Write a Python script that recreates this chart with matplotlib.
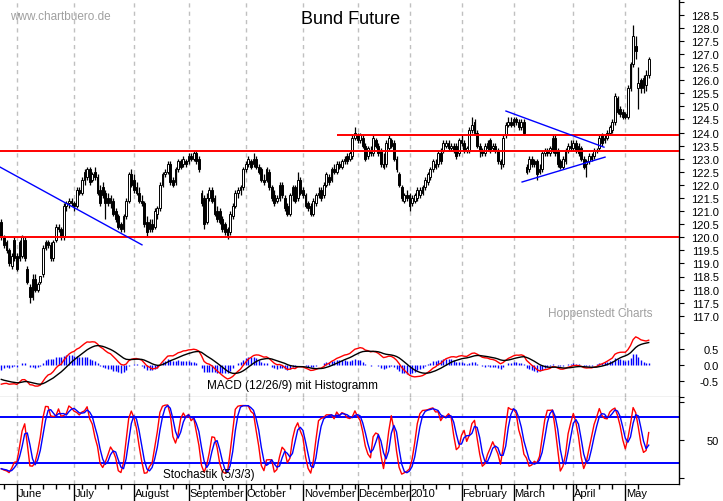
import numpy as np
import pandas as pd
import matplotlib
matplotlib.use("Agg")
import matplotlib.pyplot as plt
from matplotlib.transforms import blended_transform_factory

plt.rcParams['font.family'] = ['Liberation Sans', 'DejaVu Sans']

# Tageskerzen Bund Future (Mai 2009 - Mai 2010), eine Zeile je Monat
opens = [
    120.6, 120.0, 119.8, 119.5, 118.9, 119.9,
    119.3, 119.2, 119.3, 119.9, 118.8, 118.1, 117.7, 118.4, 118.0, 118.3, 118.6, 119.6, 119.8, 119.7, 119.2, 119.9, 120.4, 120.3, 120.0, 121.2, 121.3, 121.4,
    121.3, 121.2, 121.8, 121.7, 122.2, 122.3, 122.6, 122.2, 122.5, 122.3, 121.8, 121.9, 121.7, 121.5, 121.3, 121.4, 121.0, 120.8, 120.5, 120.3, 120.8, 121.4, 122.4,
    122.2, 121.9, 121.7, 121.4, 121.3, 120.6, 120.3, 120.5, 120.4, 120.9, 121.1, 122.0, 122.4, 122.5, 122.8, 122.2, 122.1, 122.6, 122.9, 122.8, 122.9,
    122.9, 123.1, 123.0, 123.2, 123.0, 121.7, 121.5, 120.6, 121.5, 121.8, 121.5, 121.0, 121.0, 120.7, 120.5, 120.3, 120.2, 120.8, 121.2, 121.7, 121.8, 121.9,
    122.6, 122.8, 122.9, 122.8, 123.0, 122.7, 122.6, 122.2, 122.2, 122.5, 121.9, 121.6, 121.4, 121.5, 122.0, 121.5, 121.2, 120.9, 121.6, 121.9, 121.5, 122.2,
    121.8, 121.6, 121.3, 121.2, 120.9, 121.3, 121.6, 121.8, 121.6, 122.0, 122.3, 122.2, 122.6, 122.5, 122.8, 122.7, 122.9, 123.1, 123.0, 123.1, 123.8,
    123.9, 123.7, 123.8, 123.5, 123.1, 123.3, 123.2, 123.7, 123.5, 123.3, 122.8, 122.8, 123.4, 123.7, 123.6, 123.0, 122.4, 121.9, 121.4, 121.6,
    121.6, 121.3, 121.4, 121.5, 121.6, 121.7, 121.9, 122.1, 122.3, 122.6, 122.8, 122.8, 123.2, 123.3, 123.5, 123.6, 123.4, 123.5, 123.5, 123.2,
    123.7, 123.6, 123.3, 123.3, 124.1, 124.4, 124.0, 123.5, 123.3, 123.2, 123.4, 123.7, 123.4, 123.5, 123.3, 122.9, 122.8, 123.9, 124.3, 124.4,
    124.3, 124.5, 124.4, 124.2, 124.4, 122.7, 122.6, 123.0, 122.9, 122.9, 122.5, 122.6, 123.2, 123.3, 123.2, 123.3, 123.8, 123.3, 122.9, 122.7, 122.9, 123.3, 123.5,
    123.4, 123.6, 123.5, 123.4, 123.0, 122.8, 122.9, 123.1, 123.1, 123.3, 123.4, 123.9, 123.7, 123.8, 124.0, 124.1, 124.4, 125.3, 124.9, 124.8,
    124.7, 124.6, 125.7, 126.6, 127.3, 125.7, 126.0, 125.7, 125.8, 126.2,
]
highs = [
    120.7, 120.1, 119.9, 119.6, 119.4, 120.0,
    119.4, 119.9, 120.1, 120.0, 118.9, 118.2, 118.6, 118.6, 118.3, 118.5, 119.7, 119.9, 119.9, 119.8, 119.9, 120.5, 120.5, 120.4, 121.3, 121.4, 121.5, 121.5,
    121.4, 121.9, 121.9, 122.3, 122.6, 122.7, 122.7, 122.5, 122.7, 122.4, 122.0, 122.1, 121.8, 121.7, 121.6, 121.5, 121.1, 120.9, 120.6, 120.9, 121.5, 122.5, 122.6,
    122.4, 122.1, 121.9, 121.6, 121.4, 120.8, 120.7, 120.7, 121.1, 121.2, 122.1, 122.5, 122.6, 122.9, 122.9, 122.3, 122.7, 123.0, 123.0, 123.1, 123.0,
    123.2, 123.2, 123.3, 123.3, 123.1, 121.8, 121.6, 121.7, 121.9, 121.9, 121.6, 121.2, 121.1, 120.8, 120.6, 120.4, 121.0, 121.3, 121.8, 121.9, 122.0, 122.7,
    122.9, 123.1, 123.0, 123.2, 123.1, 122.8, 122.7, 122.4, 122.7, 122.6, 122.0, 121.8, 121.6, 122.1, 122.1, 121.6, 121.3, 121.7, 122.0, 122.0, 122.5, 122.3,
    121.9, 121.7, 121.4, 121.3, 121.5, 121.7, 121.9, 121.9, 122.1, 122.5, 122.4, 122.7, 122.8, 122.9, 122.9, 123.0, 123.1, 123.2, 123.3, 123.9, 124.2,
    124.0, 124.0, 123.9, 123.6, 123.5, 123.5, 123.9, 123.8, 123.6, 123.4, 123.2, 123.7, 123.9, 123.8, 123.7, 123.1, 122.5, 122.0, 121.7, 121.8,
    121.7, 121.6, 121.7, 121.9, 121.9, 122.0, 122.3, 122.5, 122.7, 123.0, 123.0, 123.3, 123.4, 123.7, 123.7, 123.7, 123.6, 123.6, 123.6, 123.8,
    123.9, 123.7, 123.5, 124.2, 124.6, 124.5, 124.1, 123.6, 123.4, 123.6, 123.7, 123.8, 123.6, 123.6, 123.4, 123.0, 123.9, 124.4, 124.6, 124.6,
    124.6, 124.6, 124.5, 124.5, 124.5, 122.8, 123.1, 123.1, 123.0, 123.0, 122.8, 123.3, 123.4, 123.4, 123.5, 123.9, 123.9, 123.4, 123.0, 123.1, 123.4, 123.6, 123.7,
    123.7, 123.7, 123.6, 123.5, 123.1, 123.0, 123.2, 123.2, 123.4, 123.4, 123.9, 124.0, 123.9, 124.1, 124.3, 124.5, 125.5, 125.4, 125.0, 124.9,
    124.8, 125.8, 126.7, 128.1, 127.7, 126.5, 126.1, 126.2, 126.4, 126.9,
]
lows = [
    119.9, 119.6, 119.4, 118.9, 118.8, 119.1,
    118.7, 119.1, 119.2, 119.1, 118.2, 117.5, 117.6, 117.9, 117.9, 118.2, 118.5, 119.5, 119.6, 119.1, 119.1, 119.8, 120.2, 119.9, 119.9, 121.0, 121.1, 121.2,
    121.0, 121.1, 121.6, 121.6, 122.0, 122.2, 122.0, 122.1, 122.2, 121.6, 121.2, 121.5, 120.7, 121.2, 121.1, 120.8, 120.6, 120.3, 120.2, 120.2, 120.7, 121.3, 121.9,
    121.7, 121.6, 121.3, 121.2, 120.4, 120.0, 120.2, 120.2, 120.3, 120.7, 121.0, 121.9, 122.3, 122.4, 122.0, 121.9, 122.0, 122.5, 122.6, 122.7, 122.7,
    122.8, 122.9, 122.9, 122.8, 122.5, 121.2, 120.3, 120.5, 121.4, 121.3, 120.8, 120.6, 120.5, 120.2, 120.1, 119.95, 120.1, 120.7, 121.1, 121.5, 121.6, 121.8,
    122.5, 122.7, 122.6, 122.7, 122.6, 122.4, 122.1, 122.0, 122.1, 121.8, 121.4, 121.2, 121.3, 121.4, 121.5, 121.0, 120.8, 120.8, 121.4, 121.3, 121.4, 121.6,
    121.5, 121.1, 121.0, 120.8, 120.8, 121.2, 121.5, 121.4, 121.5, 121.9, 122.0, 122.1, 122.4, 122.4, 122.6, 122.6, 122.8, 122.8, 122.9, 123.0, 123.7,
    123.6, 123.6, 123.4, 122.9, 123.0, 123.1, 123.1, 123.4, 123.1, 122.7, 122.6, 122.7, 123.3, 123.4, 122.9, 122.5, 121.9, 121.4, 121.3, 121.4,
    121.0, 121.2, 121.3, 121.4, 121.5, 121.6, 121.8, 122.0, 122.2, 122.5, 122.6, 122.7, 122.8, 123.2, 123.4, 123.3, 123.3, 123.2, 123.0, 123.1,
    123.5, 123.2, 123.2, 123.2, 124.0, 123.9, 123.4, 123.05, 123.1, 123.1, 123.3, 123.2, 123.3, 123.2, 122.8, 122.6, 122.7, 123.8, 124.2, 124.2,
    124.2, 124.3, 124.1, 124.1, 123.9, 122.4, 122.5, 122.7, 122.7, 122.2, 122.4, 122.5, 123.1, 123.1, 123.1, 123.2, 123.1, 122.7, 122.6, 122.6, 122.8, 123.2, 123.3,
    123.3, 123.2, 123.1, 122.9, 122.6, 122.3, 122.8, 122.9, 123.0, 123.2, 123.3, 123.5, 123.6, 123.7, 123.9, 124.0, 124.3, 124.7, 124.6, 124.5,
    124.5, 124.5, 125.6, 126.5, 126.8, 124.9, 125.5, 125.5, 125.6, 126.1,
]
closes = [
    120.0, 119.7, 119.5, 119.0, 119.3, 119.2,
    118.8, 119.8, 120.0, 119.2, 118.3, 117.7, 118.4, 118.0, 118.2, 118.5, 119.6, 119.8, 119.7, 119.2, 119.8, 120.4, 120.3, 120.0, 121.2, 121.3, 121.4, 121.3,
    121.2, 121.8, 121.7, 122.2, 122.5, 122.6, 122.1, 122.4, 122.3, 121.7, 121.3, 121.6, 121.3, 121.3, 121.5, 120.9, 120.7, 120.4, 120.3, 120.8, 121.4, 122.4, 122.0,
    121.8, 121.7, 121.4, 121.3, 120.5, 120.2, 120.6, 120.3, 121.0, 121.1, 122.0, 122.4, 122.5, 122.8, 122.1, 122.0, 122.6, 122.9, 122.7, 123.0, 122.8,
    123.1, 123.0, 123.2, 122.9, 122.6, 121.3, 120.5, 121.5, 121.8, 121.4, 120.9, 120.7, 120.6, 120.3, 120.2, 120.1, 120.9, 121.2, 121.7, 121.8, 121.9, 122.6,
    122.8, 123.0, 122.7, 123.0, 122.7, 122.5, 122.2, 122.1, 122.6, 121.9, 121.5, 121.3, 121.5, 122.0, 121.6, 121.1, 120.9, 121.6, 121.9, 121.4, 122.2, 121.7,
    121.6, 121.2, 121.1, 120.9, 121.4, 121.6, 121.7, 121.5, 122.0, 122.4, 122.1, 122.6, 122.5, 122.8, 122.7, 122.9, 123.0, 122.9, 123.2, 123.8, 124.0,
    123.7, 123.9, 123.5, 123.0, 123.4, 123.2, 123.8, 123.5, 123.2, 122.8, 122.7, 123.6, 123.8, 123.5, 123.0, 122.6, 122.0, 121.5, 121.6, 121.5,
    121.2, 121.5, 121.6, 121.8, 121.8, 121.9, 122.2, 122.4, 122.6, 122.9, 122.7, 123.2, 122.9, 123.6, 123.6, 123.4, 123.5, 123.3, 123.1, 123.7,
    123.6, 123.3, 123.4, 124.1, 124.3, 124.0, 123.5, 123.3, 123.2, 123.5, 123.6, 123.3, 123.5, 123.3, 122.9, 122.8, 123.8, 124.3, 124.4, 124.3,
    124.5, 124.4, 124.2, 124.4, 124.0, 122.5, 123.0, 122.8, 122.8, 122.4, 122.6, 123.2, 123.3, 123.2, 123.4, 123.8, 123.2, 122.8, 122.7, 123.0, 123.3, 123.5, 123.4,
    123.6, 123.3, 123.2, 123.0, 122.7, 122.9, 123.1, 123.0, 123.3, 123.3, 123.8, 123.6, 123.8, 124.0, 124.2, 124.4, 125.4, 124.8, 124.7, 124.6,
    124.6, 125.7, 126.6, 127.7, 127.1, 125.9, 125.7, 126.1, 126.2, 126.8,
]

# Eurex-Feiertage ohne Handel
holidays = ['2009-12-24', '2009-12-25', '2009-12-31', '2010-01-01', '2010-04-02', '2010-04-05']

macd_start = -0.6
signal_start = -0.45

# Unterstuetzung/Widerstand und Trendlinien (Index, Kurs)
support_lines = [120.0, 123.28]
resistance = 123.89
resistance_from = 129
trend_down = ([-0.5, 54.1], [122.68, 119.71])
tri_upper = ([194.1, 231.8], [124.82, 123.44])
tri_lower = ([200.3, 232.2], [122.11, 123.06])

dates = pd.bdate_range('2009-05-22', '2010-05-14')
dates = dates[~dates.isin(pd.to_datetime(holidays))]

o = np.array(opens)
h = np.array(highs)
l = np.array(lows)
c = np.array(closes)
x = np.arange(len(c))


def ema(values, span, start):
    k = 2.0 / (span + 1)
    out = np.empty(len(values))
    out[0] = start
    for i in range(1, len(values)):
        out[i] = out[i - 1] + k * (values[i] - out[i - 1])
    return out


ema12 = ema(c, 12, c[0])
ema26 = ema(c, 26, c[0] - macd_start)
macd = ema12 - ema26
signal = ema(macd, 9, signal_start)
hist = macd - signal

ll = pd.Series(l).rolling(5, min_periods=1).min().values
hh = pd.Series(h).rolling(5, min_periods=1).max().values
raw_k = 100 * (c - ll) / (hh - ll)
slow_k = pd.Series(raw_k).rolling(3, min_periods=1).mean().values
slow_d = pd.Series(slow_k).rolling(3, min_periods=1).mean().values

# Monatsanfaenge
month_idx = [i for i in range(1, len(dates)) if dates[i].month != dates[i - 1].month]
month_names = ['2010' if dates[i].month == 1 else dates[i].strftime('%B') for i in month_idx]
week_idx = [i for i in range(1, len(dates)) if dates[i].weekday() < dates[i - 1].weekday()]

W, H = 723, 502
fig = plt.figure(figsize=(W / 100, H / 100), dpi=100)


def panel(top, bottom):
    return fig.add_axes([0, 1 - bottom / H, 679 / W, (bottom - top) / H])


ax1 = panel(0, 333)
ax2 = panel(333, 398)
ax3 = panel(398, 485)

xmin, xmax = -0.5, 260.65
for ax in (ax1, ax2, ax3):
    ax.set_xlim(xmin, xmax)
    for s in ('left', 'top', 'bottom'):
        ax.spines[s].set_visible(False)
    ax.spines['right'].set_linewidth(1)
    for m in month_idx:
        ax.axvline(m, color='#c0c0c0', lw=1, ls=(0, (3, 3)), zorder=0)
    ax.yaxis.tick_right()
    ax.tick_params(axis='y', direction='out', length=3.6, width=0.8, labelsize=8,
                   pad=25.2, right=True, left=False, labelright=True, labelleft=False)
    ax.tick_params(axis='x', bottom=False, labelbottom=False)
ax2.spines['bottom'].set_visible(True)
ax3.spines['bottom'].set_visible(True)

# Kurs-Chart
up = c >= o
ax1.vlines(x, l, h, color='black', lw=0.9, zorder=2)
ax1.bar(x, np.maximum(np.abs(c - o), 0.03), bottom=np.minimum(o, c), width=0.75,
        color=np.where(up, 'white', 'black'), edgecolor='black', lw=0.7, zorder=3)
for lev in support_lines:
    ax1.axhline(lev, color='red', lw=1.4, zorder=4)
ax1.hlines(resistance, resistance_from, xmax, color='red', lw=1.4, zorder=4)
for xs, ys in (trend_down, tri_upper, tri_lower):
    ax1.plot(xs, ys, color='blue', lw=1, zorder=4)
ax1.set_ylim(116.38, 129.1)
pticks = np.arange(117.0, 129.01, 0.5)
ax1.set_yticks(pticks, ['%.1f' % t if t < 128.9 else '' for t in pticks])

# MACD
ax2.vlines(x, 0, hist, color='blue', lw=1, zorder=2)
ax2.plot(x, macd, color='red', lw=1, zorder=3)
ax2.plot(x, signal, color='black', lw=1, zorder=3)
ax2.set_ylim(-1.0, 1.03)
ax2.set_yticks([-1.0, -0.5, 0.0, 0.5, 1.0], ['', '-0.5', '0.0', '0.5', ''])

# Stochastik
ax3.axhline(80, color='blue', lw=1.4)
ax3.axhline(20, color='blue', lw=1.4)
ax3.plot(x, slow_k, color='red', lw=1)
ax3.plot(x, slow_d, color='blue', lw=1)
ax3.set_ylim(-7.4, 106)
ax3.set_yticks([0, 50, 100], ['', '50', ''])

for ax in (ax1, ax2, ax3):
    for t in ax.yaxis.get_major_ticks():
        t.label2.set_horizontalalignment('right')

ax3.set_xticks(month_idx)
ax3.set_xticks(week_idx, minor=True)
ax3.tick_params(axis='x', which='major', bottom=True, direction='out', length=13, width=1)
ax3.tick_params(axis='x', which='minor', bottom=True, direction='out', length=3.6, width=1)
tr = blended_transform_factory(ax3.transData, ax3.transAxes)
for m, name in zip(month_idx, month_names):
    ax3.text(m + 0.4, -0.1, name, transform=tr, fontsize=8, va='center', ha='left', clip_on=False)

fig.text(10 / W, 1 - 17 / H, 'www.chartbuero.de', color='#a0a0a0', fontsize=8.5, va='center')
fig.text(351 / W, 1 - 20 / H, 'Bund Future', fontsize=13, ha='center', va='center')
fig.text(548 / W, 1 - 314 / H, 'Hoppenstedt Charts', color='#a0a0a0', fontsize=8.5, va='center')
fig.text(207 / W, 1 - 386 / H, 'MACD (12/26/9) mit Histogramm', fontsize=8.5, va='center')
fig.text(163 / W, 1 - 475 / H, 'Stochastik (5/3/3)', fontsize=8.5, va='center')

fig.savefig('out.png', dpi=100)
